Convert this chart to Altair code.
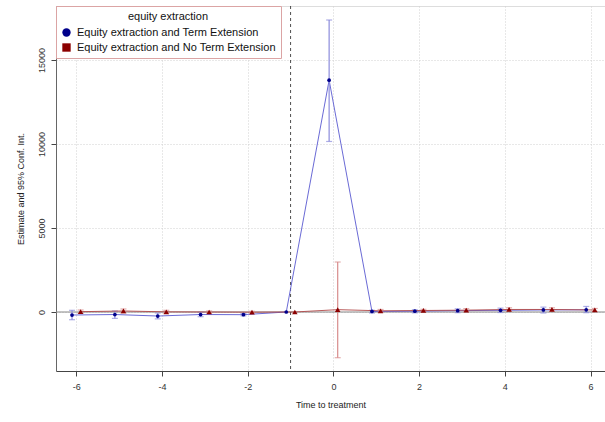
import altair as alt
import pandas as pd

times = [-6, -5, -4, -3, -2, -1, 0, 1, 2, 3, 4, 5, 6]
series_names = ["Equity extraction and Term Extension", "Equity extraction and No Term Extension"]

te_est = [-180, -150, -240, -150, -160, 0, 13800, 30, 50, 80, 100, 120, 130]
te_lo = [-460, -380, -410, -280, -230, None, 10150, -60, -50, -40, -30, -60, -40]
te_hi = [100, 60, -60, -20, -90, None, 17380, 100, 130, 190, 230, 290, 330]

nte_est = [20, 60, 10, 0, -10, 0, 140, 70, 90, 110, 150, 150, 120]
nte_lo = [-80, -60, -80, -60, -60, None, -2720, -10, 20, 30, 60, 60, 30]
nte_hi = [120, 180, 100, 60, 40, None, 2975, 150, 160, 200, 250, 250, 210]

x_ticks = [-6, -4, -2, 0, 2, 4, 6]
y_ticks = [0, 5000, 10000, 15000]

rows = []
for i, t in enumerate(times):
    rows.append({"series": series_names[0], "t": t, "est": te_est[i], "lo": te_lo[i], "hi": te_hi[i], "off": -0.1})
for i, t in enumerate(times):
    rows.append({"series": series_names[1], "t": t, "est": nte_est[i], "lo": nte_lo[i], "hi": nte_hi[i], "off": 0.1})
df = pd.DataFrame(rows)

XDOM = [-6.474, 6.338]
YDOM = [-3512, 18214]

base = alt.Chart(df).transform_calculate(xp="datum.t + datum.off")

xenc = alt.X("xp:Q", scale=alt.Scale(domain=XDOM, nice=False, zero=False),
             axis=alt.Axis(values=x_ticks, title="Time to treatment", grid=True,
                           gridDash=[1, 2], gridColor="#d0d0d0",
                           domainColor="#444", tickColor="#444", tickSize=5,
                           labelExpr="toString(datum.value)",
                           labelFontSize=9, labelColor="#333", labelPadding=6,
                           titleFontSize=9, titleFontWeight="normal", titleColor="#222",
                           titlePadding=9))
yenc = alt.Y("est:Q", scale=alt.Scale(domain=YDOM, nice=False, zero=False),
             axis=alt.Axis(values=y_ticks, title="Estimate and 95% Conf. Int.", grid=True,
                           gridDash=[1, 2], gridColor="#d0d0d0",
                           domainColor="#666", tickColor="#444", tickSize=5,
                           labelExpr="toString(datum.value)",
                           labelAngle=-90, labelAlign="center", labelBaseline="bottom",
                           labelFontSize=9, labelColor="#333", labelPadding=5,
                           titleFontSize=9, titleFontWeight="normal", titleColor="#222",
                           titlePadding=12))

zero_rule = alt.Chart(pd.DataFrame({"z": [0]})).mark_rule(color="#888", strokeWidth=1.2).encode(y=alt.Y("z:Q"))
vline = alt.Chart(pd.DataFrame({"v": [-1]})).mark_rule(color="#222", strokeDash=[3, 3], strokeWidth=0.8).encode(x=alt.X("v:Q"))

styles = [
    {"line": "#5a5ad0", "err": "#8c8cdc", "pt": "#00008b", "shape": "circle", "size": 14},
    {"line": "#b04848", "err": "#d88c8c", "pt": "#8b0000", "shape": "triangle-up", "size": 30},
]

layers = [zero_rule, vline]
first = True
for name, st in zip(series_names, styles):
    b = base.transform_filter(alt.datum.series == name)
    if first:
        ln = b.mark_line(strokeWidth=1, opacity=0.9, color=st["line"]).encode(x=xenc, y=yenc)
        first = False
    else:
        ln = b.mark_line(strokeWidth=1, opacity=0.9, color=st["line"]).encode(x="xp:Q", y="est:Q")
    layers.append(ln)
    layers.append(b.mark_rule(strokeWidth=1.2, color=st["err"]).encode(x="xp:Q", y="lo:Q", y2="hi:Q"))
    layers.append(b.mark_tick(orient="horizontal", size=6, thickness=1.2, color=st["err"]).encode(x="xp:Q", y="lo:Q"))
    layers.append(b.mark_tick(orient="horizontal", size=6, thickness=1.2, color=st["err"]).encode(x="xp:Q", y="hi:Q"))

for name, st in zip(series_names, styles):
    b = base.transform_filter(alt.datum.series == name)
    layers.append(b.mark_point(filled=True, shape=st["shape"], size=st["size"], color=st["pt"], opacity=1)
                  .encode(x="xp:Q", y="est:Q"))

leg = alt.Legend(orient="none", legendX=0, legendY=0,
                 fillColor="white", strokeColor="#dba4a4",
                 padding=5, titleAnchor="middle", titleFontSize=11,
                 titleFontWeight="normal", titleColor="#111",
                 titlePadding=5, labelFontSize=11, labelColor="#111",
                 labelLimit=400, rowPadding=3, symbolSize=70,
                 symbolOffset=0, labelOffset=5, symbolStrokeWidth=0)

legend_layer = alt.Chart(df).mark_point(filled=True, clip=True, opacity=1).encode(
    x=alt.value(-200), y=alt.value(-200),
    color=alt.Color("series:N", scale=alt.Scale(domain=series_names, range=["#00008b", "#8b0000"]),
                    title="equity extraction", legend=leg),
    shape=alt.Shape("series:N", scale=alt.Scale(domain=series_names, range=["circle", "square"]),
                    title="equity extraction", legend=leg),
)
layers.append(legend_layer)

chart = alt.layer(*layers).properties(
    width=549, height=365,
    autosize=alt.AutoSizeParams(type="none"),
    padding={"left": 56, "top": 6, "right": 0, "bottom": 51},
).configure_view(stroke="#999", strokeWidth=1).configure(font="Liberation Sans")

chart.save("out.html", embed_options={"renderer": "svg", "actions": False})
